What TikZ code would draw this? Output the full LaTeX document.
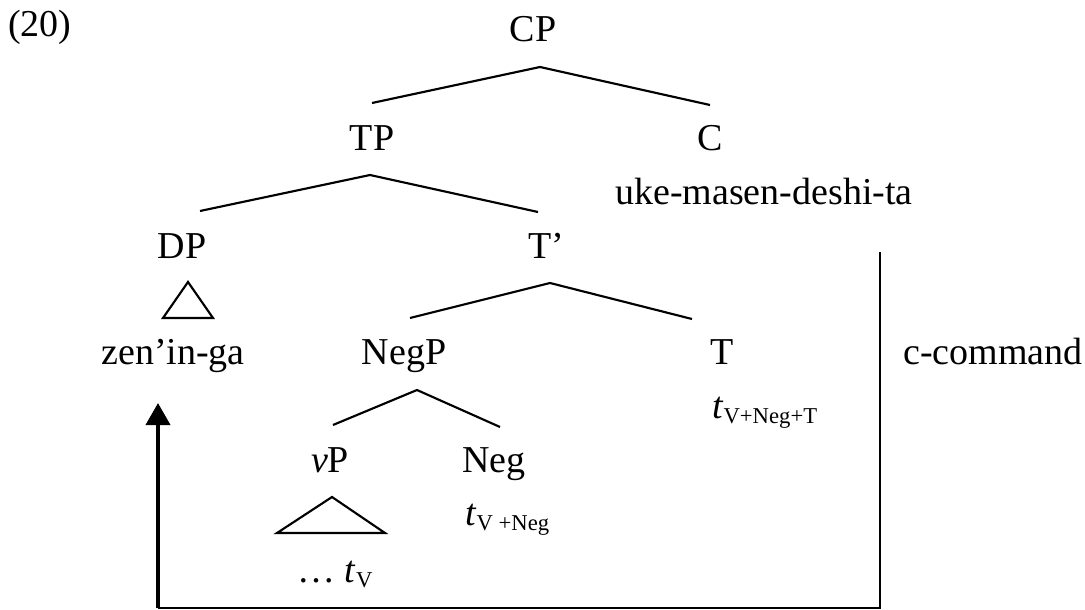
\documentclass[tikz,border=0pt]{standalone}
\usepackage{fontspec}
\setmainfont{Liberation Serif}
\usetikzlibrary{arrows.meta}
\newcommand{\trace}[1]{\textit{t}\raisebox{-3.75pt}{\fontsize{17pt}{19pt}\selectfont #1}}
\begin{document}
\begin{tikzpicture}[x=0.75pt,y=-0.75pt,
  lbl/.style={anchor=base,inner sep=0pt,font=\fontsize{28.5pt}{34pt}\selectfont},
  lblw/.style={lbl,anchor=base west},
  branch/.style={line width=1.6pt,line join=miter},
  bracket/.style={line width=2.2pt},
  arrowline/.style={line width=2.8pt,-{Triangle[length=16.5pt,width=18pt]}}]
\useasboundingbox (0,0) rectangle (1085,610);

% labels
\node[lblw] (ex) at (8,37) {(20)};
\node[lbl] (CP) at (533,42) {CP};
\node[lbl] (TP) at (372,150) {TP};
\node[lbl] (C) at (710,150) {C};
\node[lbl] (Cw) at (764,204) {uke-masen-deshi-ta};
\node[lbl] (DP) at (182,258) {DP};
\node[lbl] (Tbar) at (546,258) {T’};
\node[lbl] (DPw) at (173,364) {zen’in-ga};
\node[lbl] (NegP) at (404,364) {NegP};
\node[lbl] (T) at (722,364) {T};
\node[lblw] (cc) at (903,364) {c-command};
\node[lblw] (Tt) at (712,418) {\trace{V+Neg+T}};
\node[lbl] (vP) at (330,472) {\textit{v}P};
\node[lbl] (Neg) at (494,472) {Neg};
\node[lblw] (Negt) at (465,525) {\trace{V +Neg}};
\node[lblw] (vPt) at (297,582) {… \trace{V}};

% branch points
\coordinate (CPa) at (540,67);
\coordinate (TPt) at (372,103);
\coordinate (Ct) at (710,105);
\coordinate (TPa) at (370,175);
\coordinate (DPt) at (200,211);
\coordinate (Tbt) at (538,212);
\coordinate (Tba) at (550,283);
\coordinate (NPt) at (410,318);
\coordinate (Tt0) at (692,319);
\coordinate (NPa) at (417,390);
\coordinate (vPt0) at (333,425);
\coordinate (Ngt) at (500,427);

\draw[branch] (TPt) -- (CPa) -- (Ct);
\draw[branch] (DPt) -- (TPa) -- (Tbt);
\draw[branch] (NPt) -- (Tba) -- (Tt0);
\draw[branch] (vPt0) -- (NPa) -- (Ngt);

% triangles
\draw[branch] (188,282) -- (213,318) -- (163,318) -- cycle;
\draw[branch] (332,497) -- (385,533) -- (277,533) -- cycle;

% c-command bracket and arrow
\coordinate (cct) at (880,252);
\coordinate (ccb) at (880,608);
\coordinate (arb) at (158,608);
\coordinate (art) at (158,403);
\draw[bracket] (cct) -- (ccb) -- (arb);
\draw[arrowline] (arb) -- (art);
\end{tikzpicture}
\end{document}
